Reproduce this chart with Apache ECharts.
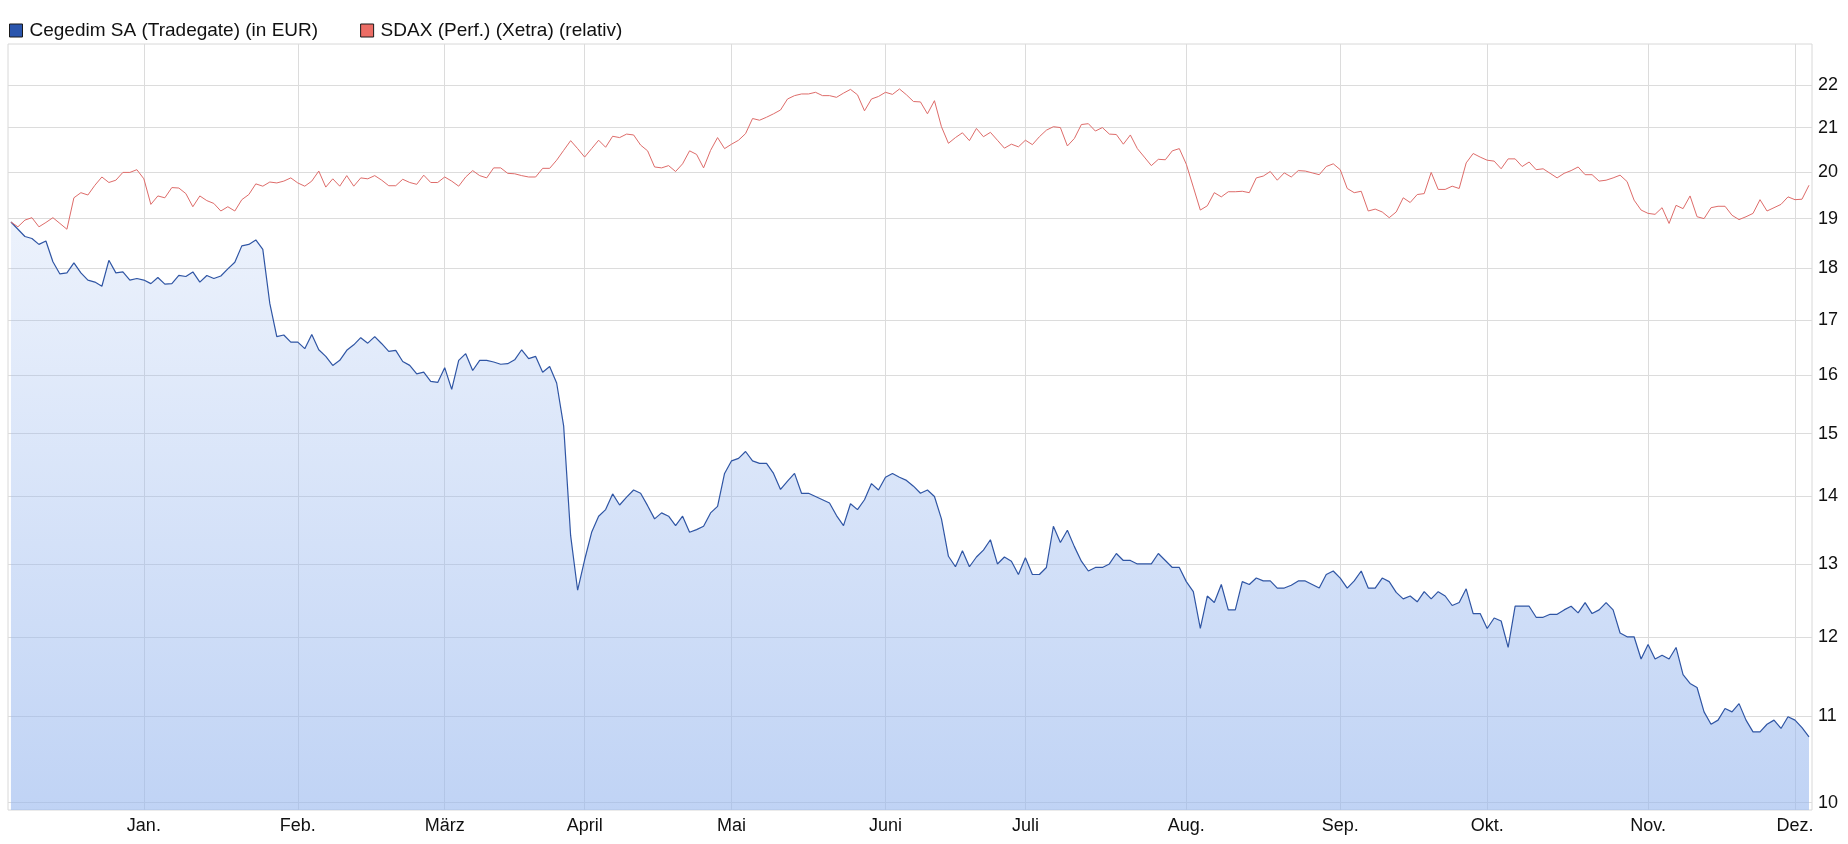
<!DOCTYPE html>
<html><head><meta charset="utf-8">
<script src="https://cdn.jsdelivr.net/npm/echarts@6/dist/echarts.min.js"></script>
<style>html,body{margin:0;padding:0;background:#fff}#c{width:1848px;height:844px}</style>
</head><body><div id="c"></div>
<script>
// ---- data ----
const startDate = '2023-12-01';
const endDate = '2024-12-04';
const holidays = ['2023-12-25','2023-12-26','2024-01-01','2024-03-29','2024-04-01','2024-05-01','2024-12-24','2024-12-25'];
const monthNames = ['Jan.','Feb.','März','April','Mai','Juni','Juli','Aug.','Sep.','Okt.','Nov.','Dez.'];
const yTicks = [10,11,12,13,14,15,16,17,18,19,20,21,22];
const seriesNames = ['Cegedim SA (Tradegate) (in EUR)', 'SDAX (Perf.) (Xetra) (relativ)'];

const cegedim = [
18.93,18.78,18.63,18.59,18.47,18.54,18.12,17.88,17.9,18.1,
17.9,17.76,17.72,17.64,18.15,17.9,17.92,17.76,17.79,17.76,
17.69,17.81,17.68,17.69,17.85,17.83,17.92,17.72,17.85,17.79,
17.84,17.98,18.11,18.44,18.47,18.56,18.37,17.31,16.69,16.72,
16.59,16.59,16.47,16.73,16.45,16.33,16.17,16.26,16.44,16.54,
16.67,16.57,16.69,16.56,16.42,16.44,16.24,16.17,16.02,16.05,
15.89,15.87,16.13,15.75,16.26,16.38,16.08,16.26,16.26,16.23,
16.19,16.2,16.27,16.45,16.29,16.33,16.05,16.15,15.86,15.13,
13.41,12.63,13.06,13.46,13.7,13.8,14.04,13.87,13.99,14.1,
14.05,13.86,13.66,13.75,13.7,13.56,13.7,13.46,13.5,13.55,
13.75,13.85,14.36,14.56,14.6,14.71,14.56,14.52,14.52,14.36,
14.11,14.24,14.36,14.05,14.05,14.0,13.95,13.9,13.71,13.56,
13.89,13.8,13.95,14.2,14.1,14.3,14.36,14.3,14.25,14.16,
14.05,14.1,14.0,13.66,13.11,12.96,13.19,12.96,13.1,13.2,
13.35,13.0,13.1,13.04,12.85,13.09,12.85,12.85,12.95,13.55,
13.31,13.49,13.25,13.04,12.9,12.95,12.95,13.0,13.15,13.05,
13.05,13.0,13.0,13.0,13.15,13.05,12.95,12.95,12.75,12.61,
12.11,12.55,12.46,12.71,12.36,12.36,12.75,12.71,12.8,12.76,
12.76,12.66,12.66,12.7,12.76,12.76,12.71,12.66,12.85,12.9,
12.8,12.66,12.76,12.9,12.66,12.66,12.8,12.75,12.6,12.51,
12.55,12.47,12.61,12.51,12.61,12.55,12.42,12.46,12.65,12.31,
12.31,12.11,12.25,12.21,11.86,12.41,12.41,12.41,12.26,12.26,
12.3,12.3,12.36,12.41,12.32,12.46,12.31,12.36,12.46,12.36,
12.05,12.0,12.0,11.71,11.9,11.71,11.76,11.71,11.86,11.51,
11.4,11.35,11.05,10.9,10.95,11.09,11.05,11.15,10.95,10.81,
10.81,10.9,10.95,10.85,10.99,10.95,10.86,10.75
];

const sdax = [
18.93,18.83,18.97,19.02,18.83,18.92,19.02,18.9,18.78,19.44,
19.55,19.5,19.71,19.89,19.77,19.82,19.99,19.99,20.05,19.85,
19.3,19.48,19.44,19.66,19.65,19.53,19.25,19.48,19.38,19.32,
19.16,19.25,19.16,19.4,19.51,19.74,19.69,19.78,19.76,19.8,
19.87,19.76,19.69,19.8,20.02,19.67,19.85,19.69,19.92,19.69,
19.87,19.85,19.92,19.82,19.7,19.7,19.84,19.77,19.73,19.93,
19.77,19.77,19.89,19.8,19.69,19.89,20.03,19.92,19.87,20.09,
20.09,19.97,19.96,19.92,19.89,19.89,20.08,20.08,20.26,20.48,
20.7,20.52,20.33,20.52,20.71,20.55,20.8,20.77,20.85,20.83,
20.6,20.47,20.11,20.09,20.14,20.01,20.18,20.47,20.39,20.09,
20.48,20.77,20.52,20.62,20.71,20.86,21.21,21.17,21.24,21.32,
21.41,21.67,21.75,21.79,21.79,21.83,21.75,21.75,21.71,21.81,
21.9,21.77,21.39,21.67,21.73,21.83,21.78,21.91,21.77,21.61,
21.6,21.32,21.63,21.02,20.64,20.77,20.88,20.7,20.98,20.79,
20.89,20.71,20.53,20.62,20.56,20.71,20.61,20.79,20.94,21.02,
21.0,20.58,20.75,21.07,21.09,20.92,21.0,20.85,20.84,20.62,
20.83,20.52,20.33,20.14,20.28,20.27,20.47,20.52,20.17,19.67,
19.18,19.27,19.55,19.46,19.57,19.57,19.58,19.55,19.87,19.91,
20.01,19.82,19.98,19.89,20.03,20.02,19.98,19.94,20.12,20.18,
20.05,19.64,19.55,19.58,19.16,19.2,19.14,19.02,19.14,19.44,
19.34,19.51,19.53,19.99,19.62,19.62,19.69,19.64,20.2,20.41,
20.33,20.26,20.24,20.07,20.29,20.29,20.12,20.22,20.05,20.07,
19.97,19.87,19.97,20.03,20.11,19.94,19.94,19.8,19.82,19.87,
19.93,19.79,19.39,19.18,19.11,19.09,19.23,18.9,19.28,19.21,
19.48,19.04,19.0,19.23,19.26,19.26,19.07,18.98,19.04,19.11,
19.4,19.16,19.23,19.3,19.46,19.4,19.41,19.71
];

// ---- trading-day calendar (categories) ----
const dates = [];
(function(){
  const d = new Date(startDate + 'T00:00:00Z');
  const end = new Date(endDate + 'T00:00:00Z');
  while (d <= end) {
    const s = d.toISOString().slice(0,10);
    const wd = d.getUTCDay();
    if (wd !== 0 && wd !== 6 && holidays.indexOf(s) < 0) dates.push(s);
    d.setUTCDate(d.getUTCDate() + 1);
  }
})();
const monthStartIdx = [];
const monthLabelAt = {};
for (let i = 1; i < dates.length; i++) {
  if (dates[i].slice(5,7) !== dates[i-1].slice(5,7)) {
    monthStartIdx.push(i);
    monthLabelAt[i] = monthNames[parseInt(dates[i].slice(5,7),10) - 1];
  }
}

const chart = echarts.init(document.getElementById('c'), null, {renderer: 'canvas'});
const FONT = '"Liberation Sans", Arial, sans-serif';
chart.setOption({
  animation: false,
  backgroundColor: '#ffffff',
  textStyle: {fontFamily: FONT},
  legend: {
    left: 9, top: 21, padding: 0,
    icon: 'rect', itemWidth: 13, itemHeight: 13, itemGap: 42,
    textStyle: {fontFamily: FONT, fontSize: 19, color: '#111', padding: [0,0,0,2]},
    data: [
      {name: seriesNames[0], itemStyle: {color: '#2a55ad', borderColor: '#1a1a1a', borderWidth: 1}},
      {name: seriesNames[1], itemStyle: {color: '#ec6d65', borderColor: '#1a1a1a', borderWidth: 1}}
    ]
  },
  grid: {left: 8, right: 36, top: 44, bottom: 34, show: true, borderColor: '#d8d8d8', borderWidth: 1},
  xAxis: {
    type: 'value', min: -0.42, max: dates.length - 1 + 0.43,
    axisLine: {show: false},
    axisTick: {show: false, customValues: monthStartIdx},
    splitLine: {show: true, lineStyle: {color: '#dcdcdc', width: 1}},
    axisLabel: {
      customValues: monthStartIdx,
      formatter: v => monthLabelAt[Math.round(v)] || '',
      fontFamily: FONT, fontSize: 18, color: '#111', margin: 7
    }
  },
  yAxis: {
    type: 'log', logBase: 10, position: 'right', min: 9.92, max: 23.02,
    axisLine: {show: false},
    axisTick: {show: false, customValues: yTicks},
    splitLine: {show: true, lineStyle: {color: '#dcdcdc', width: 1}},
    axisLabel: {
      customValues: yTicks,
      formatter: v => String(Math.round(v)),
      fontFamily: FONT, fontSize: 18, color: '#111', margin: 6
    }
  },
  series: [
    {
      name: seriesNames[0], type: 'line', showSymbol: false, z: 3,
      data: cegedim.map((v, i) => [i, v]),
      itemStyle: {color: '#2a55ad'},
      lineStyle: {color: '#2f55a4', width: 1.2},
      areaStyle: {
        origin: 'start', opacity: 1,
        color: new echarts.graphic.LinearGradient(0, 0, 0, 1, [
          {offset: 0, color: 'rgba(150,182,238,0.18)'},
          {offset: 1, color: 'rgba(150,182,238,0.6)'}
        ])
      }
    },
    {
      name: seriesNames[1], type: 'line', showSymbol: false, z: 4,
      data: sdax.map((v, i) => [i, v]),
      itemStyle: {color: '#ec6d65'},
      lineStyle: {color: '#de6c6a', width: 1}
    }
  ]
});
</script>
</body></html>
